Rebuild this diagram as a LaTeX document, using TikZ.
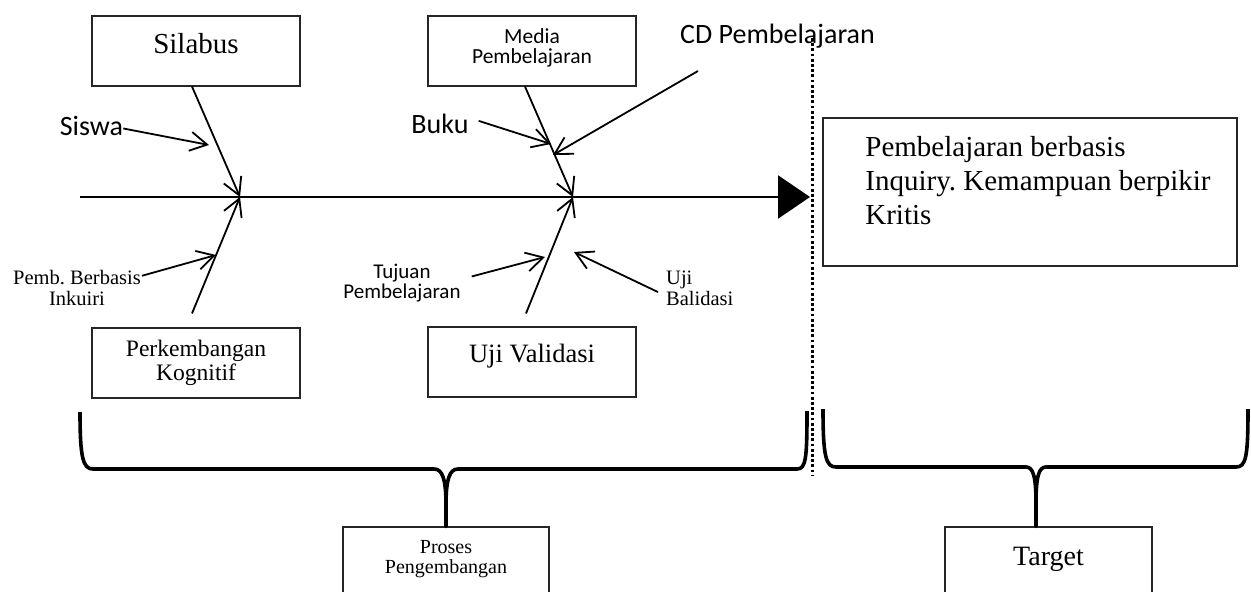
\documentclass[tikz,border=0pt]{standalone}
\usepackage{fontspec}
\setmainfont{Liberation Serif}
\newfontfamily\calibri{Carlito}
\usetikzlibrary{positioning,arrows.meta,calc}
\frenchspacing
\def\bw{208pt}
\tikzstyle{box}=[draw=black!85,line width=1.1pt,inner sep=0pt,minimum width=\bw,anchor=base]
\tikzstyle{txt}=[inner sep=0pt,anchor=base]
\tikzstyle{bone}=[line width=1.8pt,-{Straight Barb[length=17pt,width=19pt]}]
\tikzstyle{spine}=[line width=2.6pt,-{Triangle[length=32pt,width=43pt]}]
\tikzstyle{brace}=[line width=3.6pt,line join=round]
\tikzstyle{divider}=[line width=3pt,dash pattern=on 2.7pt off 2.5pt]
\newcommand{\fs}[2]{\fontsize{#1}{#2}\selectfont}
\newcommand{\lines}[2]{\begin{tabular}[b]{@{}#1@{}}#2\end{tabular}}

\begin{document}
\begin{tikzpicture}[x=1pt,y=-1pt]
      \useasboundingbox (0,0) rectangle (1251,592);
      \clip (0,0) rectangle (1251,592);

      % boxes
      \node[box,text height=37pt,text depth=33pt,font=\fs{29}{34}] (silabus) at (196,53) {Silabus};
      \node[box,text height=47pt,text depth=23pt,font=\calibri\fs{21.5}{20}] (media) at (532,63) {\lines{c}{Media\\[-1pt]Pembelajaran}};
      \node[box,text height=52pt,text depth=18pt,font=\fs{23.6}{22.5}] (kognitif) at (196,380) {\lines{c}{Perkembangan\\Kognitif}};
      \node[box,text height=35pt,text depth=35pt,font=\fs{26.5}{30}] (validasi) at (532,362) {Uji Validasi};
      \node[box,minimum width=414pt,text height=106pt,text depth=42pt,font=\fs{29}{34}] (hasil) at (1030,224)
        {\hspace{16pt}\lines{l}{Pembelajaran berbasis\\Inquiry. Kemampuan berpikir\\Kritis}};
      \node[box,minimum width=206pt,text height=46pt,text depth=47pt,font=\fs{20}{20}] (proses) at (446,573) {\lines{c}{Proses\\Pengembangan}};
      \node[box,minimum width=207pt,text height=38pt,text depth=55pt,font=\fs{28}{32}] (target) at (1048.5,565) {Target};

      % causes
      \node[txt,font=\calibri\fs{28}{32}] (siswa) at (91.5,135) {Siswa};
      \node[txt,font=\calibri\fs{28}{32}] (buku) at (440,133) {Buku};
      \node[txt,font=\calibri\fs{28}{32}] (cd) at (777.5,43) {CD Pembelajaran};
      \node[txt,font=\fs{20.5}{20}] (inkuiri) at (77,305) {\lines{c}{Pemb. Berbasis\\Inkuiri}};
      \node[txt,font=\calibri\fs{21}{17}] (tujuan) at (402,298) {\lines{c}{Tujuan\\Pembelajaran}};
      \node[txt,font=\fs{20.5}{19.5},anchor=base west] (balidasi) at (666,305) {\lines{l}{Uji\\Balidasi}};

      \coordinate (tail) at (80,197);
      \coordinate (head) at (810,197);
      \coordinate (j1) at (240,197);
      \coordinate (j2) at (573,197);
      \coordinate (s1) at (209,145);
      \coordinate (b1) at (551,144);
      \coordinate (c1) at (553,155);
      \coordinate (p1) at (216,255);
      \coordinate (t1) at (545,257);
      \coordinate (u1) at (574,252);
      \coordinate (dtop) at (812,38);
      \coordinate (dbot) at (812,476);

      \draw[spine] (tail) -- (head);
      \draw[bone] ([xshift=-4pt]silabus.south) -- (j1);
      \draw[bone] ([xshift=-4pt,yshift=14pt]kognitif.north) -- (j1);
      \draw[bone] ([xshift=-7pt]media.south) -- (j2);
      \draw[bone] ([xshift=-6pt,yshift=13pt]validasi.north) -- (j2);

      \draw[bone] ([yshift=-3pt]siswa.east) -- (s1);
      \draw[bone] ([xshift=10pt,yshift=2.5pt]buku.east) -- (b1);
      \draw[bone] ([xshift=-79.5pt,yshift=-23pt]cd.south) -- (c1);
      \draw[bone] ([xshift=1pt,yshift=15pt]inkuiri.east) -- (p1);
      \draw[bone] ([xshift=11pt,yshift=7pt]tujuan.east) -- (t1);
      \draw[bone] ([xshift=-8pt,yshift=-1pt]balidasi.west) -- (u1);

      \draw[divider] (dtop) -- (dbot);

      % braces
      \draw[brace] (80,412) .. controls (80,458) and (83,469) .. (93,469) -- (434,469)
        .. controls (442,469) and (446,478) .. (446,505) -- (proses.north) -- (446,505)
        .. controls (446,478) and (450,469) .. (458,469) -- (797,469)
        .. controls (806,469) and (807,458) .. (807,411);
      \draw[brace] (823,409) .. controls (823,457) and (826,467) .. (836,467) -- (1026,467)
        .. controls (1033,467) and (1036,476) .. (1036,503) -- ([xshift=-12.5pt]target.north) -- (1036,503)
        .. controls (1036,476) and (1039,467) .. (1046,467) -- (1236,467)
        .. controls (1246,467) and (1248,457) .. (1248,409);
    \end{tikzpicture}
\end{document}
